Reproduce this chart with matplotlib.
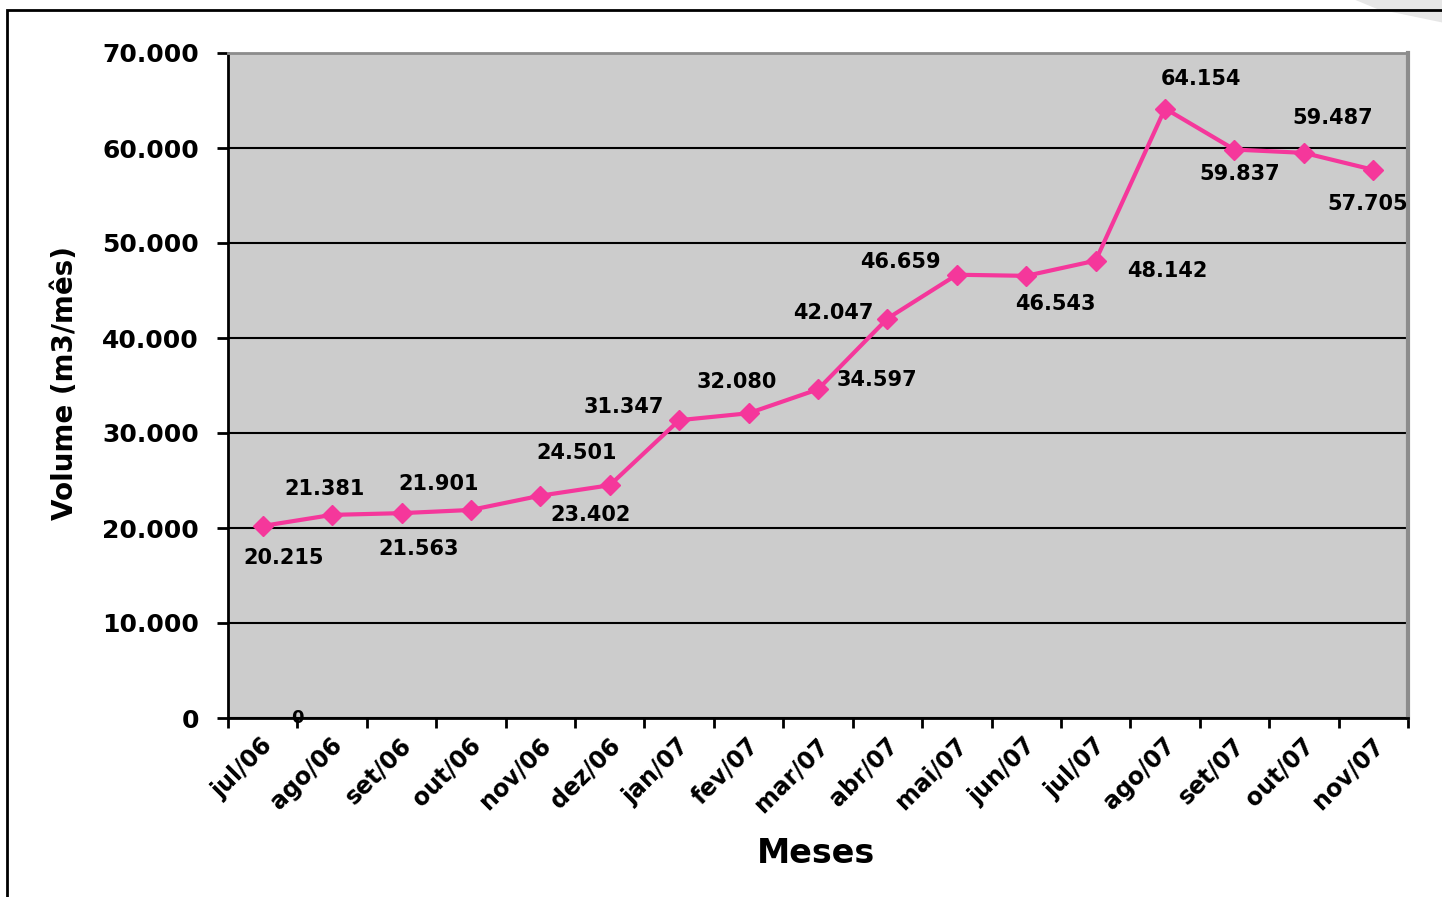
import matplotlib.pyplot as plt
from matplotlib.patches import Rectangle, Polygon
from matplotlib.transforms import ScaledTranslation

# Data
meses = ['jul/06', 'ago/06', 'set/06', 'out/06', 'nov/06', 'dez/06',
         'jan/07', 'fev/07', 'mar/07', 'abr/07', 'mai/07', 'jun/07',
         'jul/07', 'ago/07', 'set/07', 'out/07', 'nov/07']
volume = [20215, 21381, 21563, 21901, 23402, 24501, 31347, 32080, 34597,
          42047, 46659, 46543, 48142, 64154, 59837, 59487, 57705]
rotulos = ['20.215', '21.381', '21.563', '21.901', '23.402', '24.501',
           '31.347', '32.080', '34.597', '42.047', '46.659', '46.543',
           '48.142', '64.154', '59.837', '59.487', '57.705']
yticks = [0, 10000, 20000, 30000, 40000, 50000, 60000, 70000]
ytick_labels = ['0', '10.000', '20.000', '30.000', '40.000', '50.000',
                '60.000', '70.000']

# label offsets in pixels (dx, dy)
offsets = [(21, -32), (-8, 26), (17, -36), (-32, 26), (50, -19), (-33, 32),
           (-55, 13), (-12, 31), (59, 9), (-54, 6), (-56, 13), (29, -28),
           (72, -10), (36, 30), (5, -24), (29, 35), (-6, -34)]

plt.rcParams['font.family'] = ['DejaVu Sans']
plt.rcParams['font.weight'] = 'bold'

fig = plt.figure(figsize=(14.42, 8.97), dpi=100)

# outer frame and shadow
fig.patches.append(Polygon([[0.94, 1.0], [1.0, 1.0], [1.0, 0.975], [0.955, 0.99]],
                           closed=True, transform=fig.transFigure,
                           facecolor='#e6e6e6', edgecolor='none', zorder=0))
fig.patches.append(Rectangle((7 / 1442, -0.1), 1.2, 0.1 + 1 - 10 / 897,
                             transform=fig.transFigure, fill=False,
                             edgecolor='black', linewidth=2, zorder=1))

ax = fig.add_axes([228 / 1442, 1 - 718 / 897, 1180 / 1442, 665 / 897])
ax.set_facecolor('#cccccc')

x = list(range(len(meses)))
ax.plot(x, volume, color='#f5379b', linewidth=3, marker='D', markersize=10,
        markeredgecolor='#f5379b', zorder=3)

for i in x:
    ax.annotate(rotulos[i], (i, volume[i]), xytext=offsets[i],
                textcoords='offset pixels', ha='center', va='center',
                fontsize=15, fontweight='bold', zorder=4)

# stray zero label
ax.text(0.5, 0, '0', ha='center', va='center', fontsize=13, fontweight='bold',
        zorder=4, clip_on=False)

ax.set_xlim(-0.5, len(meses) - 0.5)
ax.set_ylim(0, 70000)
ax.set_yticks(yticks)
ax.set_yticklabels(ytick_labels, fontsize=18, fontweight='bold')
ax.yaxis.grid(True, color='black', linewidth=1.5)
ax.set_axisbelow(True)

ax.set_xticks(x)
ax.set_xticklabels(meses, rotation=45, ha='right', rotation_mode='anchor',
                   fontsize=17, fontweight='bold')
ax.tick_params(axis='x', which='major', length=0, pad=11)
ax.set_xticks([i - 0.5 for i in range(len(meses) + 1)], minor=True)
ax.tick_params(axis='x', which='minor', length=7, width=2, color='black')
ax.tick_params(axis='y', length=8, width=2, pad=13)

shift = ScaledTranslation(-2 / 100, 0, fig.dpi_scale_trans)
for lbl in ax.get_xticklabels():
    lbl.set_transform(lbl.get_transform() + shift)

ax.spines['left'].set_color('black')
ax.spines['left'].set_linewidth(2)
ax.spines['bottom'].set_color('black')
ax.spines['bottom'].set_linewidth(2)
ax.spines['top'].set_color('#8c8c8c')
ax.spines['top'].set_linewidth(2)
ax.spines['right'].set_color('#8c8c8c')
ax.spines['right'].set_linewidth(3)

fig.text(816 / 1442, 1 - 853 / 897, 'Meses', ha='center', va='center',
         fontsize=24, fontweight='bold')
fig.text(65 / 1442, 1 - 383 / 897, 'Volume (m3/mês)', ha='center', va='center',
         rotation=90, fontsize=20, fontweight='bold')

fig.savefig('out.png', dpi=100)
